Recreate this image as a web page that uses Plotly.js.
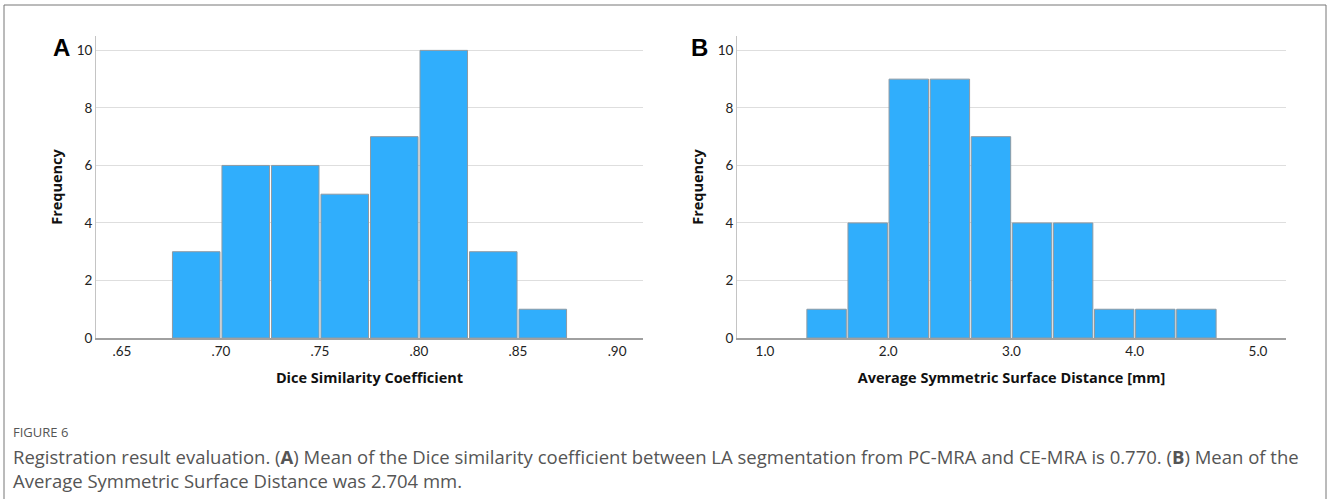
<!DOCTYPE html>
<html>
<head>
<meta charset="utf-8">
<script src="https://cdn.plot.ly/plotly-3.0.1.min.js"></script>
<style>html,body{margin:0;padding:0;background:#fff;}#chart{width:1328px;height:499px;}</style>
</head>
<body>
<div id="chart"></div>
<script>
// Panel A: Dice similarity coefficient histogram
const diceBinStarts = [0.675, 0.700, 0.725, 0.750, 0.775, 0.800, 0.825, 0.850];
const diceCounts    = [3, 6, 6, 5, 7, 10, 3, 1];
const diceBinWidth  = 0.025;
const diceTickVals  = [0.65, 0.70, 0.75, 0.80, 0.85, 0.90];
const diceTickText  = ['.65', '.70', '.75', '.80', '.85', '.90'];

// Panel B: Average symmetric surface distance histogram
const assdBinStarts = [4/3, 5/3, 2, 7/3, 8/3, 3, 10/3, 11/3, 4, 13/3];
const assdCounts    = [1, 4, 9, 9, 7, 4, 4, 1, 1, 1];
const assdBinWidth  = 1/3;
const assdTickVals  = [1, 2, 3, 4, 5];
const assdTickText  = ['1.0', '2.0', '3.0', '4.0', '5.0'];

const freqTicks = [0, 2, 4, 6, 8, 10];

const barColor = '#30aefc';
const barLine = '#8e9aa3';

const traceA = {
  type: 'bar',
  x: diceBinStarts.map(s => s + diceBinWidth / 2),
  y: diceCounts,
  width: diceBinWidth * 0.96,
  marker: {color: barColor, line: {color: barLine, width: 1}},
  xaxis: 'x', yaxis: 'y',
  hoverinfo: 'x+y'
};
const traceB = {
  type: 'bar',
  x: assdBinStarts.map(s => s + assdBinWidth / 2),
  y: assdCounts,
  width: assdBinWidth * 0.96,
  marker: {color: barColor, line: {color: barLine, width: 1}},
  xaxis: 'x2', yaxis: 'y2',
  hoverinfo: 'x+y'
};

const tickFont = {family: 'Lato, "Open Sans", sans-serif', size: 13.5, color: '#222'};
const titleFont = {family: '"Open Sans", Lato, sans-serif', size: 14.5, color: '#111', weight: 'bold'};

function yAxis(anchor) {
  return {
    anchor: anchor,
    domain: [0, 1],
    range: [0, 10.5],
    tickvals: freqTicks,
    ticktext: freqTicks.map(String),
    tickfont: tickFont,
    showgrid: true,
    gridcolor: '#dedede',
    gridwidth: 1,
    showline: true,
    linecolor: '#c4c4c4',
    linewidth: 1,
    zeroline: false,
    ticks: '',
    ticklen: 0,
    title: {text: 'Frequency', font: titleFont, standoff: 10},
    fixedrange: true
  };
}

const layout = {
  width: 1328,
  height: 499,
  paper_bgcolor: '#ffffff',
  plot_bgcolor: '#ffffff',
  showlegend: false,
  margin: {l: 0, r: 0, t: 36, b: 161},
  xaxis: {
    domain: [96/1328, 643/1328],
    anchor: 'y',
    range: [0.6369, 0.9131],
    tickvals: diceTickVals,
    ticktext: diceTickText,
    tickfont: tickFont,
    showgrid: false,
    showline: true,
    linecolor: '#a0a0a0',
    linewidth: 1.5,
    zeroline: false,
    ticks: '',
    title: {text: 'Dice Similarity Coefficient', font: titleFont, standoff: 15},
    fixedrange: true
  },
  yaxis: yAxis('x'),
  xaxis2: {
    domain: [737/1328, 1286/1328],
    anchor: 'y2',
    range: [0.773, 5.227],
    tickvals: assdTickVals,
    ticktext: assdTickText,
    tickfont: tickFont,
    showgrid: false,
    showline: true,
    linecolor: '#a0a0a0',
    linewidth: 1.5,
    zeroline: false,
    ticks: '',
    title: {text: 'Average Symmetric Surface Distance [mm]', font: titleFont, standoff: 15},
    fixedrange: true
  },
  yaxis2: yAxis('x2'),
  shapes: [
    {type: 'rect', xref: 'paper', yref: 'paper',
     x0: 4/1328, x1: 1326/1328, y0: -0.7, y1: 1 + 31/302,
     line: {color: '#777', width: 1}, fillcolor: 'rgba(0,0,0,0)', layer: 'below'}
  ],
  annotations: [
    {text: '<b>A</b>', xref: 'paper', yref: 'paper', x: 61/1328, y: 1 - (48-36)/302,
     xanchor: 'center', yanchor: 'middle', showarrow: false,
     font: {family: 'Liberation Sans, Arial, sans-serif', size: 24, color: '#000'}},
    {text: '<b>B</b>', xref: 'paper', yref: 'paper', x: 699/1328, y: 1 - (48-36)/302,
     xanchor: 'center', yanchor: 'middle', showarrow: false,
     font: {family: 'Liberation Sans, Arial, sans-serif', size: 24, color: '#000'}},
    {text: 'FIGURE 6', xref: 'paper', yref: 'paper', x: 11/1328, y: 1 - (432-36)/302,
     xanchor: 'left', yanchor: 'middle', showarrow: false,
     font: {family: '"Open Sans", sans-serif', size: 13, color: '#555'}},
    {text: 'Registration result evaluation. (<b>A</b>) Mean of the Dice similarity coefficient between LA segmentation from PC-MRA and CE-MRA is 0.770. (<b>B</b>) Mean of the',
     xref: 'paper', yref: 'paper', x: 11/1328, y: 1 - (456-36)/302,
     xanchor: 'left', yanchor: 'middle', showarrow: false,
     font: {family: '"Open Sans", sans-serif', size: 18.5, color: '#555'}},
    {text: 'Average Symmetric Surface Distance was 2.704 mm.',
     xref: 'paper', yref: 'paper', x: 11/1328, y: 1 - (480-36)/302,
     xanchor: 'left', yanchor: 'middle', showarrow: false,
     font: {family: '"Open Sans", sans-serif', size: 18.5, color: '#555'}}
  ]
};

Plotly.newPlot('chart', [traceA, traceB], layout, {displayModeBar: false, staticPlot: true});
</script>
</body>
</html>
